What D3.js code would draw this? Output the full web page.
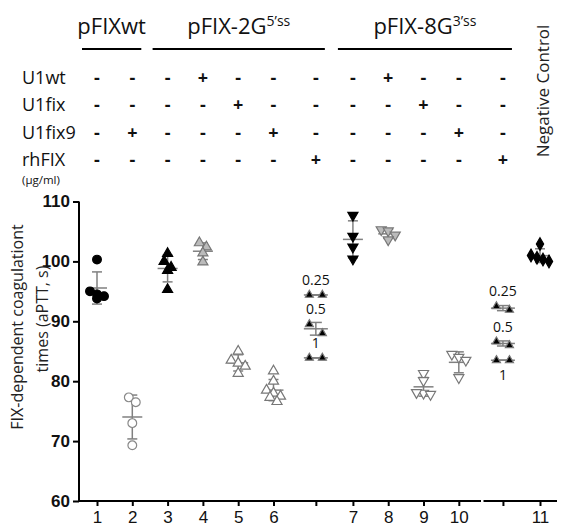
<!DOCTYPE html>
<html>
<head>
<meta charset="utf-8">
<script src="https://cdn.jsdelivr.net/npm/d3@7"></script>
<style>
  body { margin: 0; background: #fff; }
  svg { display: block; font-family: "Open Sans", sans-serif; }
</style>
</head>
<body>
<svg width="561" height="525"></svg>
<script>
// ---- data ----
var tickLabels = ["1", "2", "3", "4", "5", "6", "", "7", "8", "9", "10", "", "11"];

// aPTT values (s), one array per lane
var wtNone    = [100.3, 95.0, 94.5, 94.2, 93.8];
var wtU1fix9  = [77.3, 76.5, 73.0, 69.3];
var g2None    = [101.3, 100.0, 99.0, 98.5, 95.3];
var g2U1wt    = [103.1, 102.4, 101.4, 99.9];
var g2U1fix   = [85.0, 83.5, 83.0, 82.5, 81.3];
var g2U1fix9  = [81.7, 80.0, 78.5, 78.0, 77.5, 77.3, 76.6];
var g8None    = [107.7, 104.2, 102.4, 100.4];
var g8U1wt    = [105.3, 105.1, 104.4, 103.6];
var g8U1fix   = [81.3, 80.1, 78.0, 77.8, 78.1];
var g8U1fix9  = [84.5, 84.0, 83.5, 80.6];
var negCtrl   = [102.9, 101.0, 100.6, 100.3, 100.0];

// rhFIX dose series (µg/ml)
var doseLabels = ["0.25", "0.5", "1"];
var g2Dose = [[94.4, 94.4], [88.0, 89.5], [83.9, 83.9]];
var g8Dose = [[91.9, 92.5], [86.0, 86.6], [83.5, 83.5]];

// treatment table
var rowNames = ["U1wt", "U1fix", "U1fix9", "rhFIX"];
var rowU1wt   = ["-", "-", "-", "+", "-", "-", "-", "-", "+", "-", "-", "-"];
var rowU1fix  = ["-", "-", "-", "-", "+", "-", "-", "-", "-", "+", "-", "-"];
var rowU1fix9 = ["-", "+", "-", "-", "-", "+", "-", "-", "-", "-", "+", "-"];
var rowRhFIX  = ["-", "-", "-", "-", "-", "-", "+", "-", "-", "-", "-", "+"];
var plasmids = ["pFIXwt", "pFIX-2G", "pFIX-8G"];
var plasmidSup = ["", "5\u2019ss", "3\u2019ss"];

// ---- layout ----
var svg = d3.select("svg");
var slots = [0, 1, 2, 3, 4, 5, 6.2, 7.25, 8.25, 9.25, 10.25, 11.5, 12.55];
var x = d3.scaleLinear().domain([0, 12.55]).range([97, 540]);
var y = d3.scaleLinear().domain([60, 110]).range([501, 201.5]);
var axisLeftX = 79;

// lanes: slot index, values, marker style
var lanes = [
  {slot: 0, v: wtNone,   shape: "circle",   fill: "#000", stroke: "#000"},
  {slot: 1, v: wtU1fix9, shape: "circle",   fill: "#fff", stroke: "#888"},
  {slot: 2, v: g2None,   shape: "up",       fill: "#000", stroke: "#000"},
  {slot: 3, v: g2U1wt,   shape: "up",       fill: "#bbb", stroke: "#777"},
  {slot: 4, v: g2U1fix,  shape: "up",       fill: "#fff", stroke: "#777"},
  {slot: 5, v: g2U1fix9, shape: "up",       fill: "#fff", stroke: "#777"},
  {slot: 7, v: g8None,   shape: "down",     fill: "#000", stroke: "#000"},
  {slot: 8, v: g8U1wt,   shape: "down",     fill: "#bbb", stroke: "#777"},
  {slot: 9, v: g8U1fix,  shape: "down",     fill: "#fff", stroke: "#777"},
  {slot: 10, v: g8U1fix9, shape: "down",    fill: "#fff", stroke: "#777"},
  {slot: 12, v: negCtrl, shape: "diamond",  fill: "#000", stroke: "#000"}
];

function symbolPath(shape, small) {
  if (shape == "circle") return d3.symbol(d3.symbolCircle, 60)();
  if (shape == "diamond") return d3.symbol(d3.symbolDiamond, 46)();
  return d3.symbol(d3.symbolTriangle, small ? 28 : 44)();
}

// simple Prism-like scatter: points that sit close together are spread in a row
function swarm(values, d, tol) {
  var idx = values.map(function(v, i) { return i; })
    .sort(function(a, b) { return values[b] - values[a]; });
  var off = [], row = [];
  function flush() {
    row.forEach(function(k, j) { off[k] = (j - (row.length - 1) / 2) * d; });
    row = [];
  }
  idx.forEach(function(k) {
    if (row.length && y(values[k]) - y(values[row[0]]) > tol) flush();
    row.push(k);
  });
  flush();
  return off;
}

function meanSd(v) {
  return [d3.mean(v), v.length > 1 ? d3.deviation(v) : 0];
}

// ---- axes ----
var yAxis = svg.append("g")
  .attr("transform", "translate(" + axisLeftX + ",0)")
  .call(d3.axisLeft(y).tickValues([60, 70, 80, 90, 100, 110]).tickSize(6).tickPadding(3));
yAxis.select(".domain").attr("stroke-width", 2).attr("d", "M0," + y(110) + "V" + (y(60) + 1));
yAxis.selectAll(".tick line").attr("stroke-width", 2);
yAxis.selectAll(".tick text")
  .style("font-family", "'Liberation Sans', Arial, sans-serif")
  .style("font-weight", "bold").style("font-size", "17px").attr("fill", "#111");

var xAxis = svg.append("g")
  .attr("transform", "translate(0," + y(60) + ")")
  .call(d3.axisBottom(x).tickValues(slots).tickSize(5).tickPadding(5)
    .tickFormat(function(d, i) { return tickLabels[i]; }));
xAxis.select(".domain").remove();
xAxis.selectAll(".tick line").attr("stroke-width", 2);
xAxis.selectAll(".tick text").style("font-size", "17px").attr("fill", "#111");
// axis line with a small break before the last dose lane
xAxis.append("path")
  .attr("d", "M" + (axisLeftX - 1) + ",0H481M483.5,0H557")
  .attr("stroke", "#000").attr("stroke-width", 2);

// y title
var yTitle = svg.append("g").attr("font-size", 16).attr("fill", "#222");
yTitle.append("text").attr("transform", "translate(23,327) rotate(-90)")
  .attr("text-anchor", "middle").text("FIX-dependent coagulationt");
yTitle.append("text").attr("transform", "translate(48,319) rotate(-90)")
  .attr("text-anchor", "middle").text("times (aPTT, s)");

// ---- error bars and points ----
var barColor = "#808080";
function drawBars(g, cx, v, meanW, capW) {
  var ms = meanSd(v), m = ms[0], s = ms[1];
  g.append("line").attr("x1", cx).attr("x2", cx).attr("y1", y(m + s)).attr("y2", y(m - s))
    .attr("stroke", barColor).attr("stroke-width", 1.5);
  [m + s, m - s].forEach(function(e) {
    g.append("line").attr("x1", cx - capW / 2).attr("x2", cx + capW / 2)
      .attr("y1", y(e)).attr("y2", y(e)).attr("stroke", barColor).attr("stroke-width", 1.5);
  });
  g.append("line").attr("x1", cx - meanW / 2).attr("x2", cx + meanW / 2)
    .attr("y1", y(m)).attr("y2", y(m)).attr("stroke", barColor).attr("stroke-width", 1.5);
}

function drawPoints(g, cx, v, off, st) {
  g.selectAll(null).data(v).enter().append("path")
    .attr("d", symbolPath(st.shape, st.small))
    .attr("transform", function(d, i) {
      var rot = st.shape == "down" ? " rotate(180)" : "";
      return "translate(" + (cx + off[i]) + "," + y(d) + ")" + rot;
    })
    .attr("fill", st.fill).attr("stroke", st.stroke).attr("stroke-width", 1.2);
}

var plot = svg.append("g");
lanes.forEach(function(l) {
  var cx = x(slots[l.slot]);
  var g = plot.append("g");
  drawBars(g, cx, l.v, 20, 10);
  drawPoints(g, cx, l.v, swarm(l.v, l.shape == "diamond" ? 6 : 7, 7), l);
});

// dose lanes: each dose is one pair of replicates drawn side by side
[[6, g2Dose], [11, g8Dose]].forEach(function(dl) {
  var cx = x(slots[dl[0]]);
  var g = plot.append("g");
  dl[1].forEach(function(v, k) {
    drawBars(g, cx, v, 24, 12);
    drawPoints(g, cx, v, swarm(v, 13, 99), {shape: "up", small: true, fill: "#000", stroke: "#777"});
    var top = d3.max(v), bot = d3.min(v);
    // label: above for the first two doses, below for the last one on the 8G lane
    var below = dl[0] == 11 && k == 2;
    g.append("text").attr("x", cx).attr("y", below ? y(bot) + 20 : y(top) - 10)
      .attr("text-anchor", "middle").attr("font-size", 14).attr("fill", "#111")
      .text(doseLabels[k]);
  });
});

// ---- treatment table ----
var tableCols = slots.slice(0, 12);
var tableRows = [rowU1wt, rowU1fix, rowU1fix9, rowRhFIX];
var rowY = [78, 105, 133, 160];
var tbl = svg.append("g").attr("font-size", 18).attr("fill", "#111");
rowNames.forEach(function(name, r) {
  tbl.append("text").attr("x", 22).attr("y", rowY[r]).attr("dy", "0.35em").text(name);
  tbl.selectAll(null).data(tableRows[r]).enter().append("text")
    .attr("x", function(d, i) { return x(tableCols[i]); })
    .attr("y", rowY[r]).attr("dy", "0.35em")
    .attr("text-anchor", "middle")
    .attr("font-weight", "bold")
    .text(function(d) { return d; });
});
tbl.append("text").attr("x", 22).attr("y", 184).attr("font-size", 11.5).text("(\u00b5g/ml)");

// plasmid headers
var spans = [[0, 1], [2, 6], [7, 11]];
var head = svg.append("g").attr("fill", "#111");
spans.forEach(function(sp, i) {
  var x0 = x(slots[sp[0]]) - 15, x1 = x(slots[sp[1]]) + 9;
  head.append("line").attr("x1", x0).attr("x2", x1).attr("y1", 49).attr("y2", 49)
    .attr("stroke", "#000").attr("stroke-width", 2);
  var t = head.append("text").attr("x", (x0 + x1) / 2).attr("y", 34)
    .attr("text-anchor", "middle").attr("font-size", 22).text(plasmids[i]);
  if (plasmidSup[i]) {
    t.append("tspan").attr("dy", -8).attr("font-size", 14).text(plasmidSup[i]);
  }
});

svg.append("text").attr("transform", "translate(549,91) rotate(-90)")
  .attr("text-anchor", "middle").attr("font-size", 17).attr("fill", "#222")
  .text("Negative Control");
</script>
</body>
</html>
